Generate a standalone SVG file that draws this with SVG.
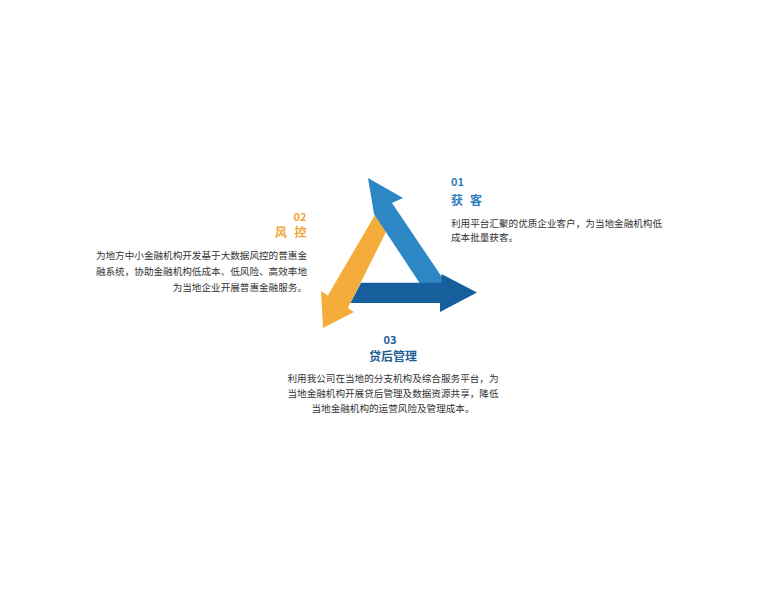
<svg xmlns="http://www.w3.org/2000/svg" width="777" height="591" viewBox="0 0 777 591">
<style>
.num{font-family:"Noto Sans CJK SC","Noto Sans",sans-serif;font-weight:700;font-size:11px}
.ttl{font-family:"Noto Sans CJK SC",sans-serif;font-weight:700;font-size:12px}
.body{font-family:"Noto Sans CJK SC",sans-serif;font-size:9.6px;fill:#333}
.blue{fill:#2f80c0}
.orange{fill:#f0a53a}
.dblue{fill:#1d5f96}
</style>
<rect width="777" height="591" fill="#ffffff"/>
<g id="arrows">
<polygon id="arrow-02" fill="#f4ac3b" points="375,215 386,232 347.9,308.1 354,312 323,328 321,291 327.8,295.4"/>
<polygon id="arrow-01" fill="#2e87c5" points="368,178 403,198 392,203 454,295 427.5,295 374,214"/>
<polygon id="arrow-03" fill="#175f9c" points="361,282.7 441.5,282.7 441.5,274 477,292.5 440,312 440,303 350.5,303"/>
</g>
<g id="node-01">
<text class="num blue" x="451" y="186">01</text>
<text class="ttl blue" x="451 470" y="205">获客</text>
<text class="body" x="451" y="226.5">利用平台汇聚的优质企业客户，为当地金融机构低</text>
<text class="body" x="451" y="241">成本批量获客。</text>
</g>
<g id="node-02">
<text class="num orange" x="306.5" y="221" text-anchor="end">02</text>
<text class="ttl orange" x="275 294.5" y="237">风控</text>
<text class="body" x="307" y="258.5" text-anchor="end">为地方中小金融机构开发基于大数据风控的普惠金</text>
<text class="body" x="307" y="275" text-anchor="end">融系统，协助金融机构低成本、低风险、高效率地</text>
<text class="body" x="307" y="291" text-anchor="end">为当地企业开展普惠金融服务。</text>
</g>
<g id="node-03" text-anchor="middle">
<text class="num dblue" x="390" y="343.5">03</text>
<text class="ttl dblue" x="393" y="361">贷后管理</text>
<text class="body" x="393" y="382">利用我公司在当地的分支机构及综合服务平台，为</text>
<text class="body" x="393" y="397">当地金融机构开展贷后管理及数据资源共享，降低</text>
<text class="body" x="393" y="412">当地金融机构的运营风险及管理成本。</text>
</g>
</svg>
